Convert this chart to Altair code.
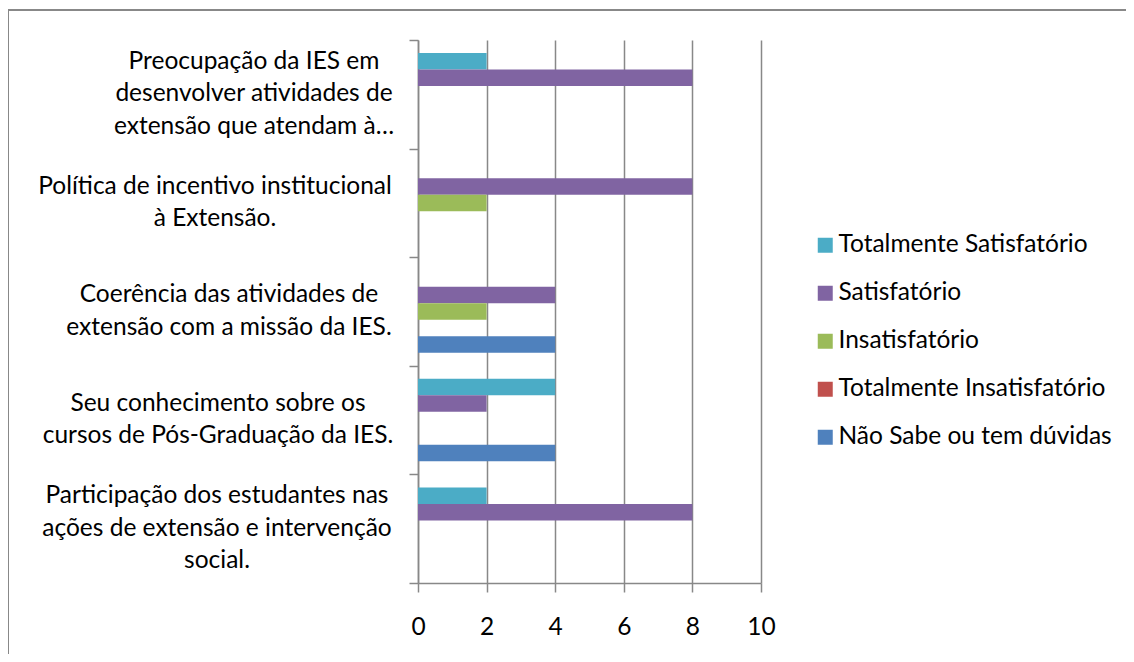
import altair as alt
import pandas as pd

categorias = [
    "Preocupação da IES em\ndesenvolver atividades de\nextensão que atendam à…",
    "Política de incentivo institucional\nà Extensão.",
    "Coerência das atividades de\nextensão com a missão da IES.",
    "Seu conhecimento sobre os\ncursos de Pós-Graduação da IES.",
    "Participação dos estudantes nas\nações de extensão e intervenção\nsocial.",
]
series = [
    "Totalmente Satisfatório",
    "Satisfatório",
    "Insatisfatório",
    "Totalmente Insatisfatório",
    "Não Sabe ou tem dúvidas",
]
cores = ["#4BACC6", "#8064A2", "#9BBB59", "#C0504D", "#4F81BD"]

totalmente_satisfatorio = [2, 0, 0, 4, 2]
satisfatorio = [8, 8, 4, 2, 8]
insatisfatorio = [0, 2, 2, 0, 0]
totalmente_insatisfatorio = [0, 0, 0, 0, 0]
nao_sabe = [0, 0, 4, 4, 0]

valores = [totalmente_satisfatorio, satisfatorio, insatisfatorio,
           totalmente_insatisfatorio, nao_sabe]

rows = []
for s, vals in zip(series, valores):
    for c, v in zip(categorias, vals):
        rows.append({"categoria": c, "serie": s, "valor": v})
df = pd.DataFrame(rows)
df_cat = pd.DataFrame({"categoria": categorias})

FONT = "Lato"
FS = 24.5
LH = 32.5
GRAY = "#888888"

yscale = alt.Scale(domain=categorias, paddingInner=0, paddingOuter=0)

bars = alt.Chart(df).mark_bar().encode(
    x=alt.X(
        "valor:Q",
        scale=alt.Scale(domain=[0, 10], nice=False),
        axis=alt.Axis(
            values=[0, 2, 4, 6, 8, 10],
            title=None,
            grid=True,
            gridColor=GRAY,
            gridWidth=1.5,
            domainColor=GRAY,
            domainWidth=1.5,
            tickColor=GRAY,
            tickWidth=1.5,
            tickSize=9,
            labelPadding=23,
            labelFlush=False,
            labelFont=FONT,
            labelFontSize=FS,
            labelColor="#000000",
        ),
    ),
    y=alt.Y(
        "categoria:N",
        scale=yscale,
        axis=alt.Axis(
            title=None,
            grid=False,
            labels=False,
            tickBand="extent",
            domainColor=GRAY,
            domainWidth=1.5,
            tickColor=GRAY,
            tickWidth=1.5,
            tickSize=9,
        ),
    ),
    yOffset=alt.YOffset(
        "serie:N",
        sort=series,
        scale=alt.Scale(paddingInner=0, paddingOuter=0.79),
    ),
    color=alt.Color(
        "serie:N",
        scale=alt.Scale(domain=series, range=cores),
        legend=alt.Legend(
            title=None,
            orient="none",
            legendX=395,
            legendY=193,
            padding=0,
            symbolType="square",
            symbolSize=225,
            symbolStrokeWidth=0,
            symbolOpacity=1,
            labelFont=FONT,
            labelFontSize=FS,
            labelColor="#000000",
            labelOffset=1,
            labelLimit=600,
            rowPadding=23,
        ),
    ),
)

label_dx = {
    "expr": (
        "indexof(datum.categoria, 'Preocupa') >= 0 ? -164 : "
        "indexof(datum.categoria, 'Política') >= 0 ? -203 : "
        "indexof(datum.categoria, 'Coerência') >= 0 ? -189 : "
        "indexof(datum.categoria, 'Seu conhecimento') >= 0 ? -200 : -201"
    )
}
label_dy = {"expr": f"-(length(split(datum.categoria, '\\n')) - 1) * {LH / 2}"}

labels = alt.Chart(df_cat).mark_text(
    align="center",
    baseline="middle",
    lineBreak="\n",
    lineHeight=LH,
    font=FONT,
    fontSize=FS,
    color="#000000",
    dx=label_dx,
    dy=label_dy,
).encode(
    y=alt.Y("categoria:N", scale=yscale),
    x=alt.value(0),
    text="categoria:N",
)

frame = alt.Chart(alt.Data(values=[{}])).mark_rect(
    fill="transparent", stroke=GRAY, strokeWidth=2
).encode(
    x=alt.value(-410),
    x2=alt.value(760),
    y=alt.value(-30),
    y2=alt.value(660),
)

chart = alt.layer(frame, bars, labels).properties(
    width=343,
    height=543,
    padding={"left": 410, "top": 32, "right": 365, "bottom": 71},
    autosize=alt.AutoSizeParams(type="none"),
    background="white",
).configure_view(stroke=None)

chart.save("out.html", embed_options={"renderer": "svg", "actions": False})
